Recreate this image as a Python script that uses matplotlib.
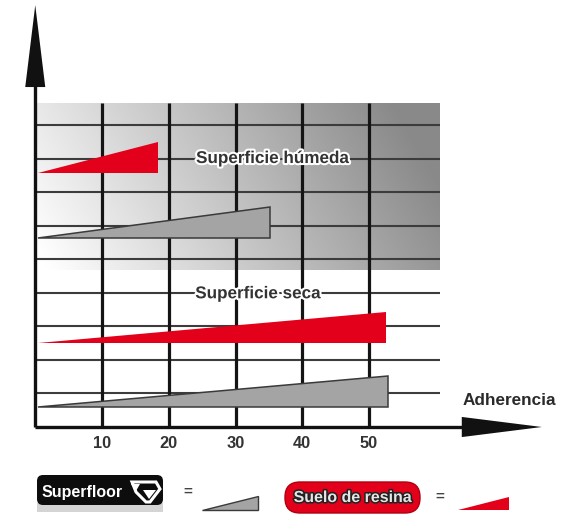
import numpy as np
import matplotlib
matplotlib.use("Agg")
import matplotlib.pyplot as plt
from matplotlib.patches import Polygon, FancyBboxPatch, Rectangle
import matplotlib.patheffects as pe

# ---- data ----
surfaces = ["Superficie húmeda", "Superficie seca"]
superfloor_adherence = [35.2, 52.9]   # end of grey wedge (Superfloor)
resina_adherence = [18.4, 52.6]       # end of red wedge (Suelo de resina)
x_ticks = [10, 20, 30, 40, 50]
x_tick_labels = ["10", "20", "30", "40", "50"]
axis_label = "Adherencia"
legend_labels = ["Superfloor", "Suelo de resina"]

RED = "#e2001a"
GREY = "#a4a4a4"
GREY_EDGE = "#3a3a3a"
FONT = "Liberation Sans"

W, H = 580, 520
fig = plt.figure(figsize=(W / 100, H / 100), dpi=100)
ax = fig.add_axes([0, 0, 1, 1])
ax.set_xlim(-35.25 / 6.675, (W - 35.25) / 6.675)
ax.set_ylim((427 - H) / 33.56, 427 / 33.56)
ax.axis("off")

x_max_grid = 60.6
y_top_grid = 9.65
shade_bottom = 4.68

# shaded background (wet zone)
nx, ny = 300, 100
u = np.linspace(0, 1, nx)[None, :]
v = np.linspace(0, 1, ny)[:, None]
t = np.clip(0.92 * u + 0.22 * v - 0.03, 0, 1)
c = 1 - 0.46 * t
img = np.dstack([c, c, c])
ax.imshow(img, extent=[0, x_max_grid, shade_bottom, y_top_grid], origin="lower",
          aspect="auto", zorder=0, interpolation="bilinear")

# grid
for yy in range(1, 10):
    ax.plot([0, x_max_grid], [yy, yy], color="#3c3c3c", lw=1.5, zorder=1,
            solid_capstyle="butt")
for xx in x_ticks:
    ax.plot([xx, xx], [0, y_top_grid], color="#141414", lw=2.3, zorder=1.2,
            solid_capstyle="butt")

# axes arrows
ax.plot([0, 0], [0, 10.3], color="#111111", lw=2.4, zorder=3, solid_capstyle="butt")
ax.add_patch(Polygon([[-1.5, 10.13], [1.5, 10.13], [0, 12.57]], closed=True,
                     facecolor="#111111", edgecolor="none", zorder=3))
ax.plot([0, 64.5], [0, 0], color="#111111", lw=2.4, zorder=3, solid_capstyle="butt")
ax.add_patch(Polygon([[63.9, 0.3], [63.9, -0.3], [75.9, 0]], closed=True,
                     facecolor="#111111", edgecolor="none", zorder=3))

# wedges
wedge_base = {"Superficie húmeda": (7.57, 5.63), "Superficie seca": (2.50, 0.60)}
wedge_h = 0.92
x_start = 0.4
for i, s in enumerate(surfaces):
    yr, yg = wedge_base[s]
    xr = resina_adherence[i]
    ax.add_patch(Polygon([[x_start, yr], [xr, yr], [xr, yr + wedge_h]], closed=True,
                         facecolor=RED, edgecolor="none", zorder=4))
    xg = superfloor_adherence[i]
    ax.add_patch(Polygon([[x_start, yg], [xg, yg], [xg, yg + wedge_h]], closed=True,
                         facecolor=GREY, edgecolor=GREY_EDGE, lw=1.1, zorder=4,
                         joinstyle="miter"))

# surface labels
halo = [pe.withStroke(linewidth=3, foreground="white")]
ax.text(35.6, 8.0, surfaces[0], ha="center", va="center", fontsize=12.3,
        fontweight="bold", family=FONT, color="#333333", zorder=5, path_effects=halo)
ax.text(33.4, 3.97, surfaces[1], ha="center", va="center", fontsize=12.3,
        fontweight="bold", family=FONT, color="#333333", zorder=5, path_effects=halo)

# tick labels
for xx, lab in zip(x_ticks, x_tick_labels):
    ax.text(xx, -0.5, lab, ha="center", va="center", fontsize=11.8,
            fontweight="bold", family=FONT, color="#333333")
ax.text(64.0, 0.78, axis_label, ha="left", va="center", fontsize=12.3,
        fontweight="bold", family=FONT, color="#2a2a2a")

# ---- legend (pixel-space axes) ----
lg = fig.add_axes([0, 0, 1, 1], zorder=10)
lg.set_xlim(0, W)
lg.set_ylim(H, 0)
lg.axis("off")
lg.patch.set_alpha(0)

# Superfloor logo
lg.add_patch(Rectangle((37, 503), 126, 9, facecolor="#d4d4d4", edgecolor="none"))
lg.add_patch(FancyBboxPatch((37, 475), 126, 30, boxstyle="round,pad=0,rounding_size=6",
                            facecolor="#0d0d0d", edgecolor="none"))
lg.text(42, 493, legend_labels[0], ha="left", va="center", fontsize=11.5,
        fontweight="bold", family=FONT, color="white")
gem = [[132, 482], [156, 482], [160, 489], [150, 502], [146, 502], [136, 492]]
lg.add_patch(Polygon(gem, closed=True, facecolor="none", edgecolor="white", lw=2.2))
lg.add_patch(Polygon([[143, 490], [156, 490], [149, 499]], closed=True,
                     facecolor="white", edgecolor="none"))
lg.add_patch(Polygon([[131, 484], [140, 484], [136, 491]], closed=True,
                     facecolor="white", edgecolor="none"))
lg.text(188, 492, "=", ha="center", va="center", fontsize=11, fontweight="bold",
        family=FONT, color="#444444")
lg.add_patch(Polygon([[202, 510], [258, 510], [258, 496]], closed=True,
                     facecolor=GREY, edgecolor=GREY_EDGE, lw=1.0))

# Suelo de resina pill
lg.add_patch(FancyBboxPatch((285, 482), 135, 31, boxstyle="round,pad=0,rounding_size=15",
                            facecolor=RED, edgecolor="#b00010", lw=1.0))
lg.text(353, 497.5, legend_labels[1], ha="center", va="center", fontsize=11.5,
        fontweight="bold", family=FONT, color="#e6e6e6",
        path_effects=[pe.withStroke(linewidth=2.2, foreground="#222222")])
lg.text(440, 497, "=", ha="center", va="center", fontsize=11, fontweight="bold",
        family=FONT, color="#444444")
lg.add_patch(Polygon([[458, 510], [509, 510], [509, 497]], closed=True,
                     facecolor=RED, edgecolor="none"))

fig.savefig("out.png", dpi=100)
